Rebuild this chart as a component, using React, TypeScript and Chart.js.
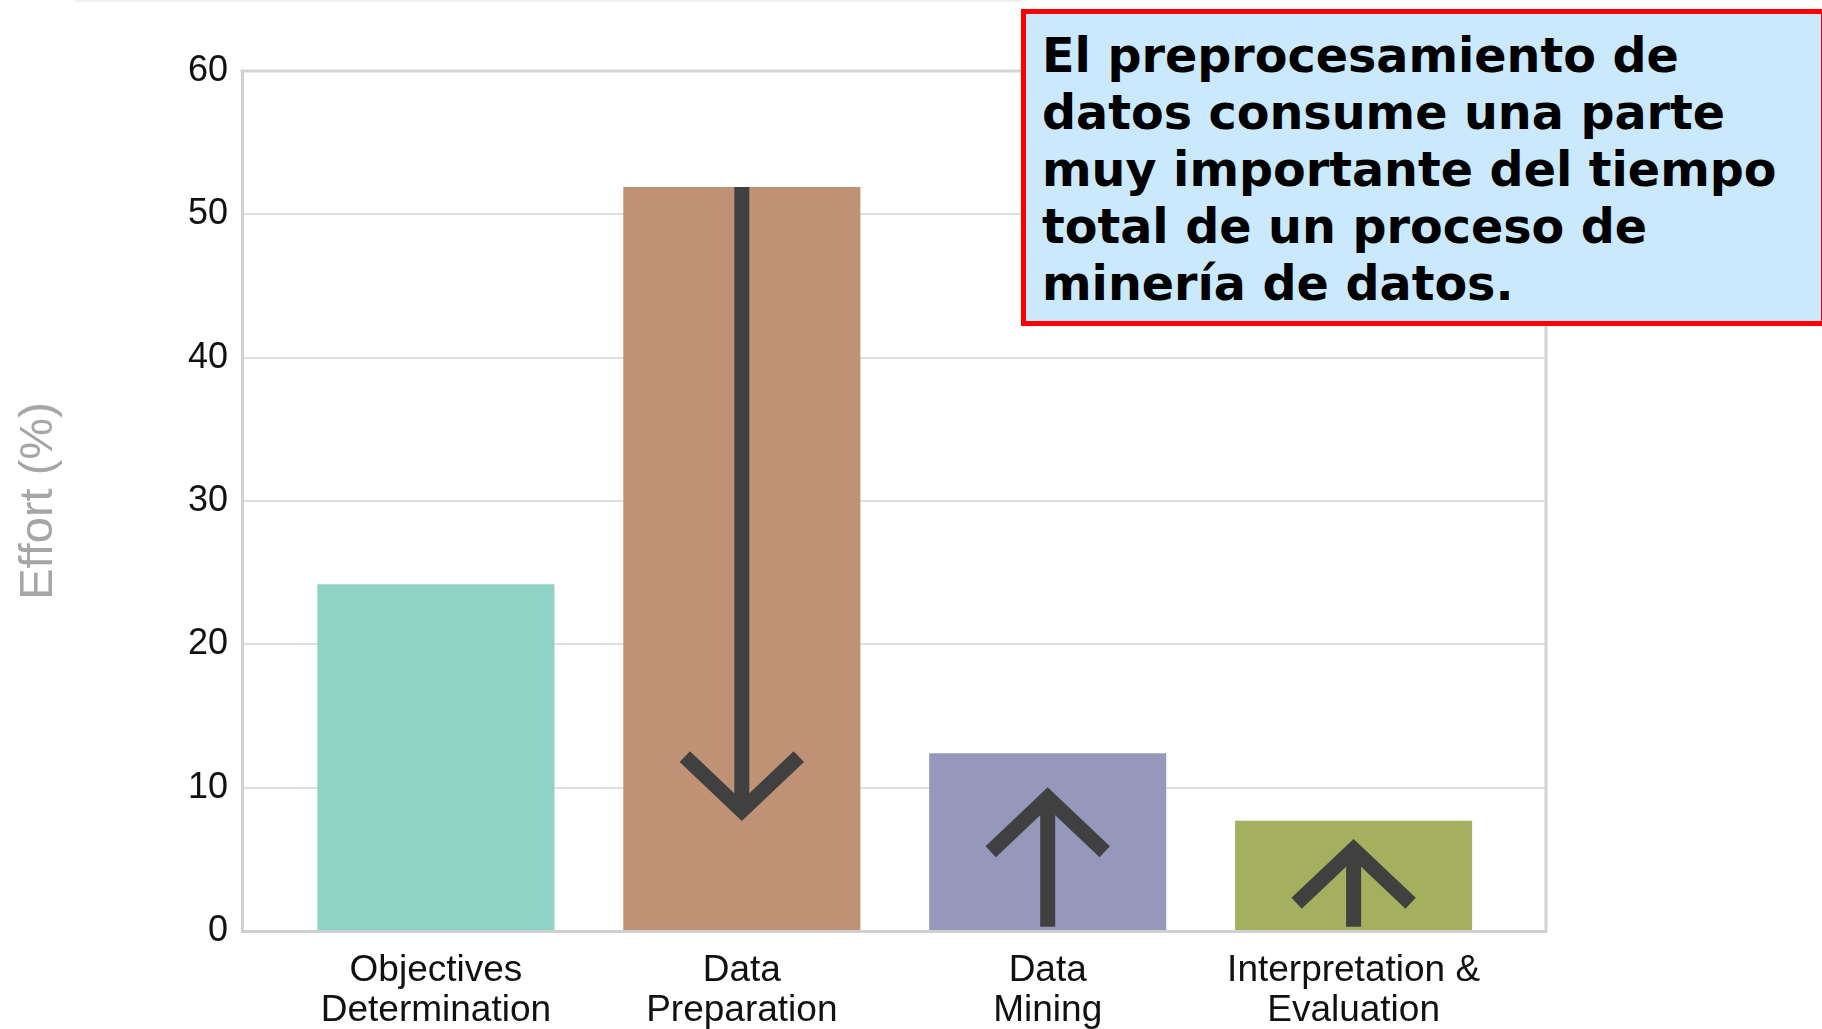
import { useEffect, useRef } from "react";
import { Chart, registerables } from "chart.js";

Chart.register(...registerables);

// ---- data ----
const categories: string[][] = [
  ["Objectives", "Determination"],
  ["Data", "Preparation"],
  ["Data", "Mining"],
  ["Interpretation &", "Evaluation"],
];
const effort = [24.2, 51.9, 12.4, 7.7];
const barColors = ["#8fd3c5", "#c09275", "#9597bb", "#a4b05e"];
const yMin = 0;
const yMax = 60;
const yStep = 10;

// arrow annotations (category index, tail value, tip value)
const arrowIndex = [1, 2, 3];
const arrowFrom = [51.9, 0.3, 0.3];
const arrowTo = [8.4, 9.3, 5.7];

const calloutLines = [
  "El preprocesamiento de",
  "datos consume una parte",
  "muy importante del tiempo",
  "total de un proceso de",
  "minería de datos.",
];

const FONT = "'Liberation Sans', Arial, Helvetica, sans-serif";

const framePlugin = {
  id: "frame",
  afterDatasetsDraw(chart: any) {
    const { ctx, chartArea } = chart;
    ctx.save();
    ctx.strokeStyle = "#d3d3d3";
    ctx.lineWidth = 3;
    ctx.beginPath();
    ctx.moveTo(chartArea.left - 1.5, chartArea.top);
    ctx.lineTo(chartArea.right, chartArea.top);
    ctx.lineTo(chartArea.right, chartArea.bottom + 1.5);
    ctx.stroke();
    ctx.restore();
  },
};

const arrowsPlugin = {
  id: "arrows",
  afterDatasetsDraw(chart: any) {
    const { ctx } = chart;
    const x = chart.scales.x;
    const y = chart.scales.y;
    ctx.save();
    ctx.strokeStyle = "#404040";
    ctx.lineWidth = 15;
    ctx.lineCap = "butt";
    ctx.lineJoin = "miter";
    arrowIndex.forEach((idx, k) => {
      const px = x.getPixelForValue(idx);
      const y0 = y.getPixelForValue(arrowFrom[k]);
      const y1 = y.getPixelForValue(arrowTo[k]);
      const dir = y1 > y0 ? 1 : -1;
      ctx.beginPath();
      ctx.moveTo(px, y0);
      ctx.lineTo(px, y1);
      ctx.stroke();
      ctx.beginPath();
      ctx.moveTo(px - 57, y1 - dir * 54);
      ctx.lineTo(px, y1);
      ctx.lineTo(px + 57, y1 - dir * 54);
      ctx.stroke();
    });
    ctx.restore();
  },
};

export default function App() {
  const canvasRef = useRef<HTMLCanvasElement | null>(null);

  useEffect(() => {
    if (!canvasRef.current) return;
    const chart = new Chart(canvasRef.current, {
      type: "bar",
      data: {
        datasets: [
          {
            data: effort.map((v, i) => ({ x: i, y: v })),
            backgroundColor: barColors,
            borderWidth: 0,
            barPercentage: 0.775,
            categoryPercentage: 1,
          },
        ],
      },
      options: {
        animation: false,
        responsive: false,
        devicePixelRatio: 1,
        layout: { padding: { top: 71, right: 276, left: 0, bottom: 0 } },
        plugins: {
          legend: { display: false },
          tooltip: { enabled: false },
        },
        scales: {
          x: {
            type: "linear",
            offset: false,
            bounds: "data",
            min: -0.634,
            max: 3.629,
            z: 1,
            afterBuildTicks: (s: any) => {
              s.ticks = categories.map((_, i) => ({ value: i }));
            },
            afterFit: (s: any) => {
              s.height = 98;
            },
            grid: { display: false, drawTicks: false, offset: false },
            border: { display: true, color: "#d0d0d0", width: 3 },
            ticks: {
              autoSkip: false,
              maxRotation: 0,
              minRotation: 0,
              padding: 19,
              color: "#111111",
              font: { family: FONT, size: 37, lineHeight: 1.1 },
              callback: (v: any) => categories[Number(v)] ?? "",
            },
          },
          y: {
            min: yMin,
            max: yMax,
            afterFit: (s: any) => {
              s.width = 242;
            },
            grid: { color: "#dedede", lineWidth: 2, drawTicks: false },
            border: { display: true, color: "#d0d0d0", width: 3 },
            ticks: {
              stepSize: yStep,
              padding: 14,
              color: "#111111",
              font: { family: FONT, size: 36 },
            },
            title: {
              display: true,
              text: "Effort (%)",
              color: "#a6a6a6",
              font: { family: FONT, size: 47, lineHeight: 1.2 },
              padding: { top: 11, bottom: 0 },
            },
          },
        },
      },
      plugins: [framePlugin, arrowsPlugin],
    } as any);
    return () => chart.destroy();
  }, []);

  return (
    <div
      style={{
        position: "absolute",
        left: 0,
        top: 0,
        width: 1822,
        height: 1029,
        overflow: "hidden",
        background: "#ffffff",
      }}
    >
      <div
        style={{
          position: "absolute",
          left: 75,
          top: 0,
          width: 947,
          height: 2,
          background: "#f0f0f0",
        }}
      />
      <canvas
        ref={canvasRef}
        width={1822}
        height={1029}
        style={{ position: "absolute", left: 0, top: 0, width: 1822, height: 1029 }}
      />
      <div
        style={{
          position: "absolute",
          left: 1021,
          top: 9,
          width: 805,
          height: 317,
          boxSizing: "border-box",
          border: "5px solid #ff0000",
          background: "#cbe9fc",
          padding: "13px 0 0 16px",
          fontFamily: "'DejaVu Sans', Verdana, sans-serif",
          fontWeight: "bold",
          fontSize: 47.6,
          lineHeight: "57px",
          color: "#000000",
          whiteSpace: "nowrap",
        }}
      >
        {calloutLines.map((l, i) => (
          <div key={i}>{l}</div>
        ))}
      </div>
    </div>
  );
}
